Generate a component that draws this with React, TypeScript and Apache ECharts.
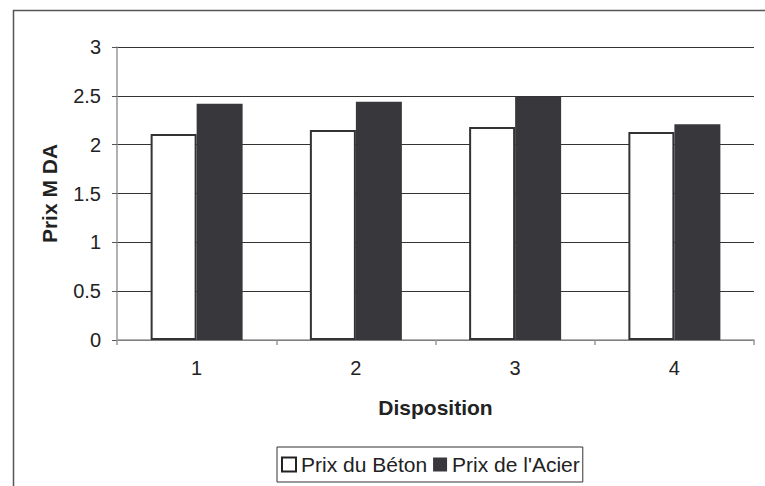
import React, { useEffect, useRef } from "react";
import * as echarts from "echarts";

const categories = ["1", "2", "3", "4"];
const prixBeton = [2.11, 2.15, 2.18, 2.13];
const prixAcier = [2.42, 2.44, 2.49, 2.21];
const seriesNames = ["Prix du Béton", "Prix de l'Acier"];

const FONT = "'Liberation Sans', Arial, sans-serif";

export default function App() {
  const ref = useRef<HTMLDivElement>(null);
  useEffect(() => {
    if (!ref.current) return;
    const chart = echarts.init(ref.current, undefined, { renderer: "svg" });
    chart.setOption({
      animation: false,
      backgroundColor: "#ffffff",
      textStyle: { fontFamily: FONT },
      graphic: [
        {
          type: "rect",
          left: 11,
          top: 8,
          shape: { x: 0, y: 0, width: 800, height: 520 },
          style: { fill: "none", stroke: "#555555", lineWidth: 1.5 },
          silent: true,
          z: -1,
        },
      ],
      grid: {
        left: 117,
        right: 11,
        top: 47,
        bottom: 146,
        containLabel: false,
        outerBoundsMode: "none",
      },
      legend: {
        left: 277,
        top: 447,
        orient: "horizontal",
        padding: [7, 3, 7, 4],
        itemGap: 6,
        itemWidth: 14,
        itemHeight: 14,
        borderColor: "#333333",
        borderWidth: 1,
        textStyle: { fontSize: 21, color: "#222222", fontFamily: FONT },
        data: [
          {
            name: seriesNames[0],
            icon: "rect",
            itemStyle: { color: "#ffffff", borderColor: "#222222", borderWidth: 2 },
          },
          {
            name: seriesNames[1],
            icon: "rect",
            itemStyle: { color: "#38373b", borderColor: "#38373b", borderWidth: 0 },
          },
        ],
      },
      xAxis: {
        type: "category",
        data: categories,
        boundaryGap: true,
        name: "Disposition",
        nameLocation: "middle",
        nameGap: 57,
        nameTextStyle: { fontSize: 21, fontWeight: "bold", color: "#222222", fontFamily: FONT },
        axisLine: { show: true, lineStyle: { color: "#999999", width: 1.5 } },
        axisTick: { show: true, alignWithLabel: false, length: 5, lineStyle: { color: "#999999", width: 1.5 } },
        axisLabel: { fontSize: 20, color: "#222222", margin: 18, fontFamily: FONT },
        splitLine: { show: false },
      },
      yAxis: {
        type: "value",
        min: 0,
        max: 3,
        interval: 0.5,
        name: "Prix M DA",
        nameLocation: "middle",
        nameRotate: 90,
        nameGap: 57,
        nameTextStyle: { fontSize: 21, fontWeight: "bold", color: "#222222", fontFamily: FONT },
        axisLine: { show: true, lineStyle: { color: "#999999", width: 1.5 } },
        axisTick: { show: true, length: 5, lineStyle: { color: "#555555" } },
        axisLabel: { fontSize: 20, color: "#222222", margin: 16, fontFamily: FONT },
        splitLine: { show: true, lineStyle: { color: "#333333", width: 1 } },
      },
      series: [
        {
          name: seriesNames[0],
          type: "bar",
          data: prixBeton,
          barWidth: 46,
          barGap: "0%",
          itemStyle: { color: "#ffffff", borderColor: "#333333", borderWidth: 2 },
        },
        {
          name: seriesNames[1],
          type: "bar",
          data: prixAcier,
          barWidth: 46,
          barGap: "0%",
          itemStyle: { color: "#38373b", borderColor: "#38373b", borderWidth: 0 },
        },
      ],
    });
    return () => chart.dispose();
  }, []);
  return (
    <div
      ref={ref}
      style={{ position: "fixed", left: 0, top: 0, width: 765, height: 486 }}
    />
  );
}
